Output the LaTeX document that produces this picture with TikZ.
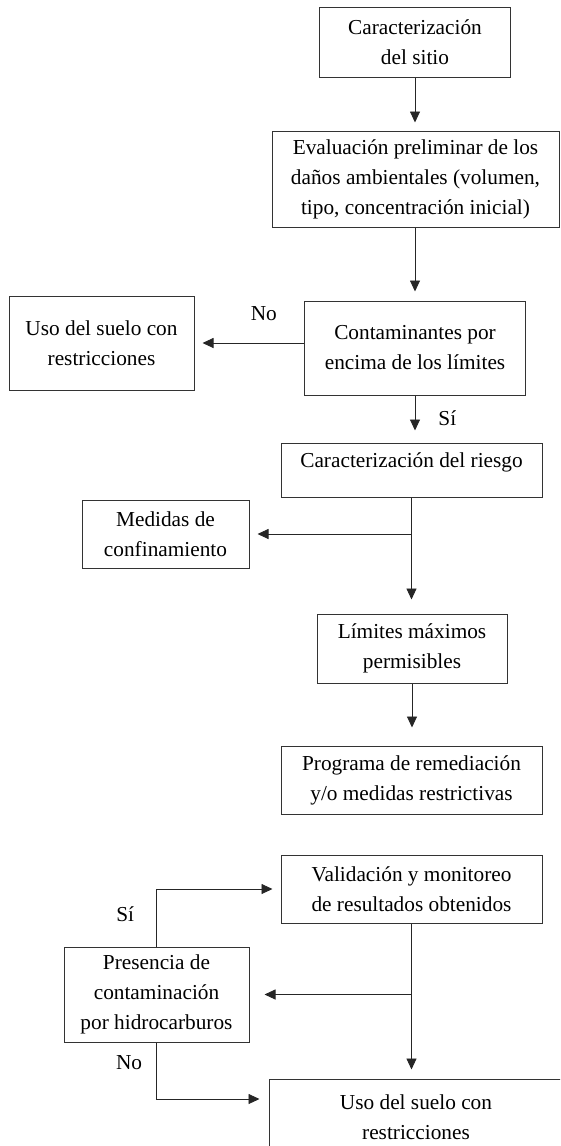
\documentclass[tikz,border=0pt]{standalone}
\usepackage{fontspec}
\setmainfont{Liberation Serif}
\usetikzlibrary{positioning, arrows.meta}

\tikzset{
  box/.style 2 args={draw=black!80, line width=1pt, align=center, inner sep=0pt,
    minimum width=#1, minimum height=#2, font=\fontsize{21.3}{30}\selectfont},
  flow/.style={-{Triangle[length=11pt,width=10pt]}, line width=0.9pt,
    draw=black!85, shorten >=8pt},
  lbl/.style={font=\fontsize{21.3}{30}\selectfont, inner sep=0pt}
}

\begin{document}
\begin{tikzpicture}[x=1pt, y=1pt]

    \useasboundingbox (0,0) rectangle (560,-1146);
    \clip (0,0) rectangle (560,-1146);

    % main column
    \node (sitio) [box={191pt}{70pt}] at (415,-42) {Caracterización\\del sitio};
    \node (eva) [box={287pt}{96pt}] at (415.5,-179)
        {Evaluación preliminar de los\\daños ambientales (volumen,\\tipo, concentración inicial)};
    \node (cont) [box={221pt}{94pt}] at (415,-348) {Contaminantes por\\encima de los límites};
    \node (riesgo) [box={261pt}{54pt}, text depth=19pt] at (411.5,-470) {Caracterización del riesgo};
    \node (limites) [box={190pt}{69pt}] at (412,-648.5) {Límites máximos\\permisibles};
    \node (programa) [box={261pt}{68pt}] at (411.5,-780) {Programa de remediación\\y/o medidas restrictivas};
    \node (valid) [box={261pt}{68pt}] at (411.5,-889) {Validación y monitoreo\\de resultados obtenidos};
    \node (uso2) [box={294pt}{76pt}] at (416,-1117) {Uso del suelo con\\restricciones};

    % side boxes
    \node (uso1) [box={185pt}{94pt}] at (101.5,-343) {Uso del suelo con\\restricciones};
    \node (medidas) [box={167pt}{68pt}] at (165.5,-534) {Medidas de\\confinamiento};
    \node (presencia) [box={185pt}{95pt}] at (156.5,-994.5) {Presencia de\\contaminación\\por hidrocarburos};

    \draw [flow] (sitio.south) -- (sitio.south |- eva.north);
    \draw [flow, shorten >=9pt] (eva.south -| cont.north) -- (cont.north);
    \draw [flow] (uso1.east -| cont.west) -- node [lbl, above=22pt, pos=0.367] {No} (uso1.east);
    \draw [flow, shorten >=12pt] (cont.south) -- node [lbl, right=23pt, pos=0.48] {Sí} (cont.south |- riesgo.north);
    \draw [flow, shorten >=14pt] (riesgo.south) -- (riesgo.south |- limites.north);
    \draw [flow] (riesgo.south |- medidas.east) -- (medidas.east);
    \draw [flow, shorten >=18pt] (limites.south) -- (limites.south |- programa.north);

    \draw [flow, shorten >=9pt] (valid.south) -- (valid.south |- uso2.north);
    \draw [flow, shorten >=15pt] (valid.south |- presencia.east) -- (presencia.east);
    \draw [flow] (presencia.north) |- node [lbl, left=22pt, pos=0.28] {Sí} (valid.west);
    \draw [flow, shorten >=9pt] (presencia.south) |- node [lbl, left=14pt, pos=0.18] {No} ([yshift=18pt]uso2.west);

\end{tikzpicture}
\end{document}
